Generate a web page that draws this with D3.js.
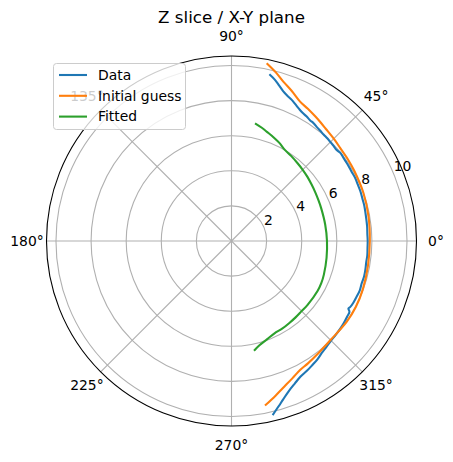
<!DOCTYPE html>
<html>
<head>
<meta charset="utf-8">
<script src="https://cdn.jsdelivr.net/npm/d3@7"></script>
<style>
  body { margin: 0; background: #fff; }
  svg text { font-family: "DejaVu Sans", sans-serif; fill: #000; }
</style>
</head>
<body>
<svg id="chart" width="453" height="462"></svg>
<script>
// values (angle in degrees, radius in data units)
var dataTheta = [77.2, 75, 73, 71, 69, 67, 65, 63, 61, 59, 57, 55, 53, 51, 49, 47, 45, 43, 41, 39, 37, 35, 33, 30, 27, 24, 21, 18, 15, 12, 9, 6, 3, 0,
  -3, -6, -9, -12, -15, -18, -21, -24, -27, -29, -30, -31, -33, -36, -39, -42, -45, -48, -51, -54, -57, -60, -63, -66, -69, -72, -74, -76.7];
var dataR = [9.74, 9.52, 9.27, 9.03, 8.87, 8.75, 8.6, 8.46, 8.35, 8.29, 8.21, 8.18, 8.11, 8.06, 8.02, 8.0, 7.97, 7.95, 7.92, 7.98, 7.95, 7.93, 7.92, 7.9, 7.91, 7.88, 7.87, 7.84, 7.83, 7.8, 7.78, 7.77, 7.75, 7.76,
  7.76, 7.78, 7.77, 7.8, 7.82, 7.8, 7.83, 7.8, 7.78, 7.74, 7.69, 7.84, 7.87, 7.92, 7.96, 7.99, 8.02, 8.1, 8.19, 8.33, 8.44, 8.56, 8.67, 8.88, 9.14, 9.5, 9.78, 10.19];

var guessTheta = [78.8, 75, 72, 68, 63.8, 60, 56, 53.4, 50, 45, 40.5, 35, 30, 20, 10, 0, -10, -20, -28, -35, -45, -52, -58, -62, -66, -70, -74, -78.5];
var guessR = [10.32, 9.9, 9.55, 9.2, 8.85, 8.7, 8.55, 8.46, 8.35, 8.24, 8.15, 8.1, 8.06, 8.0, 7.93, 7.88, 7.9, 7.97, 8.02, 8.02, 7.98, 8.08, 8.22, 8.32, 8.55, 8.82, 9.15, 9.57];

var fitTheta = [78.7, 75, 72, 68, 64, 60, 55, 50, 45, 40, 35, 30, 25, 20, 10, 0, -10, -20, -25, -30, -40, -45, -50, -55, -60, -65, -70, -75, -78.4];
var fitR = [6.84, 6.68, 6.54, 6.38, 6.22, 6.03, 5.92, 5.82, 5.74, 5.66, 5.58, 5.52, 5.47, 5.44, 5.42, 5.44, 5.5, 5.6, 5.65, 5.67, 5.66, 5.65, 5.68, 5.72, 5.77, 5.8, 5.95, 6.15, 6.38];

var rTicks = [2, 4, 6, 8, 10];
var angleTicks = [0, 45, 90, 135, 180, 225, 270, 315];
var seriesNames = ["Data", "Initial guess", "Fitted"];
var seriesColors = ["#1f77b4", "#ff7f0e", "#2ca02c"];

var cx = 231.5, cy = 241, outer = 185, rMax = 10.54;

var svg = d3.select("#chart");

svg.append("text")
  .attr("x", 231.5).attr("y", 23)
  .attr("text-anchor", "middle")
  .style("font-size", "16.7px")
  .text("Z slice / X-Y plane");

var g = svg.append("g")
  .attr("transform", "translate(" + cx + "," + cy + ")");

var r = d3.scaleLinear().domain([0, rMax]).range([0, outer]);
// polar angle (ccw from east, degrees) -> d3 radial angle (cw from north, radians)
var toRad = function(deg) { return (90 - deg) * Math.PI / 180; };

// grid circles
g.selectAll(".ring")
  .data(rTicks)
  .enter().append("circle")
    .attr("class", "ring")
    .attr("r", function(d) { return r(d); })
    .style("fill", "none")
    .style("stroke", "#b0b0b0")
    .style("stroke-width", 1.1);

// spokes
g.selectAll(".spoke")
  .data(angleTicks)
  .enter().append("line")
    .attr("class", "spoke")
    .attr("x1", 0).attr("y1", 0)
    .attr("x2", function(d) { return outer * Math.cos(d * Math.PI / 180); })
    .attr("y2", function(d) { return -outer * Math.sin(d * Math.PI / 180); })
    .style("stroke", "#b0b0b0")
    .style("stroke-width", 1.1);

// outer spine
g.append("circle")
  .attr("r", outer)
  .style("fill", "none")
  .style("stroke", "#000")
  .style("stroke-width", 1.1);

// series
var series = [
  { theta: dataTheta, r: dataR },
  { theta: guessTheta, r: guessR },
  { theta: fitTheta, r: fitR }
];

var line = d3.lineRadial()
  .angle(function(d) { return toRad(d[0]); })
  .radius(function(d) { return r(d[1]); })
  .curve(d3.curveCatmullRom);

series.forEach(function(s, i) {
  var pts = s.theta.map(function(t, j) { return [t, s.r[j]]; });
  g.append("path")
    .attr("d", line(pts))
    .style("fill", "none")
    .style("stroke", seriesColors[i])
    .style("stroke-width", 2.1)
    .style("stroke-linejoin", "round");
});

// angle labels
g.selectAll(".alab")
  .data(angleTicks)
  .enter().append("text")
    .attr("class", "alab")
    .attr("x", function(d) { return 204.5 * Math.cos(d * Math.PI / 180); })
    .attr("y", function(d) { return -204.5 * Math.sin(d * Math.PI / 180); })
    .attr("text-anchor", "middle")
    .attr("dy", "0.35em")
    .style("font-size", "13.9px")
    .text(function(d) { return d + "°"; });

// radial labels at 22.5 deg
var la = 22.5 * Math.PI / 180;
g.selectAll(".rlab")
  .data(rTicks)
  .enter().append("text")
    .attr("class", "rlab")
    .attr("x", function(d) { return r(d) * Math.cos(la); })
    .attr("y", function(d) { return -r(d) * Math.sin(la) - 3; })
    .style("font-size", "13.9px")
    .text(function(d) { return d; });

// legend (drawn over the 135° label, as in the original)
var leg = svg.append("g");
leg.append("rect")
  .attr("x", 53.5).attr("y", 63.5)
  .attr("width", 132).attr("height", 66)
  .attr("rx", 3)
  .style("fill", "#fff")
  .style("fill-opacity", 0.8)
  .style("stroke", "#cccccc")
  .style("stroke-width", 1);

seriesNames.forEach(function(name, i) {
  var y = 75 + i * 20.8;
  leg.append("line")
    .attr("x1", 59).attr("x2", 87)
    .attr("y1", y).attr("y2", y)
    .style("stroke", seriesColors[i])
    .style("stroke-width", 2.1);
  leg.append("text")
    .attr("x", 98).attr("y", y)
    .attr("dy", "0.35em")
    .style("font-size", "13.9px")
    .text(name);
});
</script>
</body>
</html>
